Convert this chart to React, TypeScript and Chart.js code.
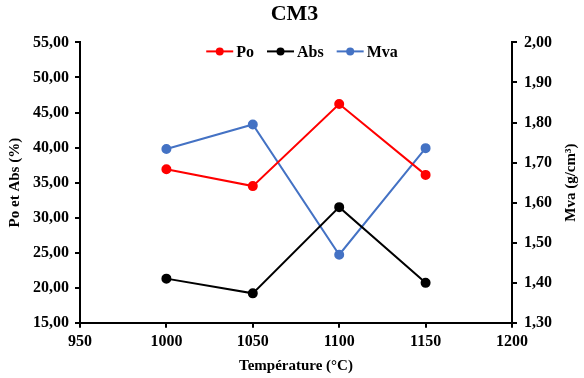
import React, { useEffect, useRef } from 'react';
import { Chart, registerables } from 'chart.js';

Chart.register(...registerables);

const titleText = 'CM3';
const temperatures = [1000, 1050, 1100, 1150];
const poValues = [36.9, 34.5, 46.2, 36.1];
const absValues = [21.3, 19.2, 31.5, 20.7];
const mvaValues = [1.734, 1.795, 1.47, 1.736];
const seriesNames = ['Po', 'Abs', 'Mva'];
const seriesColors = ['#FF0000', '#000000', '#4472C4'];
const xTitle = 'Température (°C)';
const yLeftTitle = 'Po et Abs (%)';
const yRightTitle = 'Mva (g/cm³)';

const FONT = "'Liberation Serif', 'Times New Roman', serif";
const TICK_FONT = { family: FONT, size: 16, weight: 'bold' };
const AXIS_TITLE_FONT = { family: FONT, size: 15, weight: 'bold', lineHeight: 1 };

const toPoints = (vals: number[]) => vals.map((v, i) => ({ x: temperatures[i], y: v }));

const legendPlugin = {
  id: 'lineLegend',
  afterDraw(chart: any) {
    const { ctx, chartArea } = chart;
    ctx.save();
    ctx.font = `bold 16px ${FONT}`;
    const lineLen = 27;
    const gapText = 3;
    const gapItem = 13;
    const items = chart.data.datasets.map((d: any) => ({
      label: d.label,
      color: d.borderColor,
      w: ctx.measureText(d.label).width,
    }));
    const total = items.reduce((s: number, it: any) => s + lineLen + gapText + it.w, 0) + gapItem * (items.length - 1);
    let x = (chartArea.left + chartArea.right) / 2 + 6 - total / 2;
    const y = chartArea.top + 9;
    items.forEach((it: any) => {
      ctx.strokeStyle = it.color;
      ctx.lineWidth = 2;
      ctx.beginPath();
      ctx.moveTo(x, y);
      ctx.lineTo(x + lineLen, y);
      ctx.stroke();
      ctx.fillStyle = it.color;
      ctx.beginPath();
      ctx.arc(x + lineLen / 2, y, 4, 0, Math.PI * 2);
      ctx.fill();
      ctx.fillStyle = '#000';
      ctx.textBaseline = 'middle';
      ctx.textAlign = 'left';
      ctx.fillText(it.label, x + lineLen + gapText, y + 1);
      x += lineLen + gapText + it.w + gapItem;
    });
    ctx.restore();
  },
};

// Right axis title rotated to read bottom-to-top, like the left one
const rightTitlePlugin = {
  id: 'rightTitle',
  afterDraw(chart: any) {
    const { ctx, chartArea } = chart;
    const sc = chart.scales.y1;
    ctx.save();
    ctx.font = `bold ${AXIS_TITLE_FONT.size}px ${FONT}`;
    ctx.fillStyle = '#000';
    ctx.textAlign = 'center';
    ctx.textBaseline = 'middle';
    ctx.translate(sc.right - 10, (chartArea.top + chartArea.bottom) / 2);
    ctx.rotate(-Math.PI / 2);
    ctx.fillText(yRightTitle, 0, 0);
    ctx.restore();
  },
};

const axisCommon = {
  border: { display: true, color: '#000', width: 2 },
  grid: { display: true, drawOnChartArea: false, drawTicks: true, tickLength: 5, color: '#000', lineWidth: 2 },
};

const fmt2 = (v: any) => Number(v).toFixed(2).replace('.', ',');

export default function App() {
  const ref = useRef<HTMLCanvasElement | null>(null);
  useEffect(() => {
    document.body.style.margin = '0';
    if (!ref.current) return;
    const chart = new Chart(ref.current, {
      type: 'line',
      data: {
        datasets: [
          { label: seriesNames[0], data: toPoints(poValues), yAxisID: 'y' },
          { label: seriesNames[1], data: toPoints(absValues), yAxisID: 'y' },
          { label: seriesNames[2], data: toPoints(mvaValues), yAxisID: 'y1' },
        ].map((d, i) => ({
          ...d,
          borderColor: seriesColors[i],
          backgroundColor: seriesColors[i],
          pointBackgroundColor: seriesColors[i],
          pointBorderColor: seriesColors[i],
          borderWidth: 2,
          pointRadius: 4,
          tension: 0,
        })),
      },
      options: {
        responsive: false,
        animation: false,
        devicePixelRatio: 1,
        layout: { padding: { left: 8, right: 3, top: 0, bottom: 0 } },
        plugins: {
          legend: { display: false },
          tooltip: { enabled: false },
          title: {
            display: true,
            text: titleText,
            color: '#000',
            font: { family: FONT, size: 22, weight: 'bold' },
            padding: { top: 1, bottom: 15 },
          },
        },
        scales: {
          x: {
            type: 'linear',
            min: 950,
            max: 1200,
            ...axisCommon,
            ticks: {
              stepSize: 50,
              color: '#000',
              font: TICK_FONT,
              padding: 4,
              callback: (v: any) => String(v),
            },
            title: {
              display: true,
              text: xTitle,
              color: '#000',
              font: AXIS_TITLE_FONT,
              padding: { top: 4, bottom: 4 },
            },
          },
          y: {
            type: 'linear',
            position: 'left',
            min: 15,
            max: 55,
            ...axisCommon,
            ticks: {
              stepSize: 5,
              color: '#000',
              font: TICK_FONT,
              padding: 6,
              callback: fmt2,
            },
            title: {
              display: true,
              text: yLeftTitle,
              color: '#000',
              font: AXIS_TITLE_FONT,
              padding: { top: 0, bottom: 4 },
            },
          },
          y1: {
            type: 'linear',
            position: 'right',
            min: 1.3,
            max: 2.0,
            ...axisCommon,
            ticks: {
              stepSize: 0.1,
              color: '#000',
              font: TICK_FONT,
              padding: 7,
              callback: fmt2,
            },
            title: {
              display: true,
              text: yRightTitle,
              color: 'rgba(0,0,0,0)',
              font: { ...AXIS_TITLE_FONT, lineHeight: 1.2 },
              padding: { top: 4, bottom: 0 },
            },
          },
        },
      },
      plugins: [legendPlugin, rightTitlePlugin],
    } as any);
    return () => chart.destroy();
  }, []);
  return (
    <div style={{ width: 584, height: 378, background: '#fff' }}>
      <canvas ref={ref} width={584} height={378} />
    </div>
  );
}
